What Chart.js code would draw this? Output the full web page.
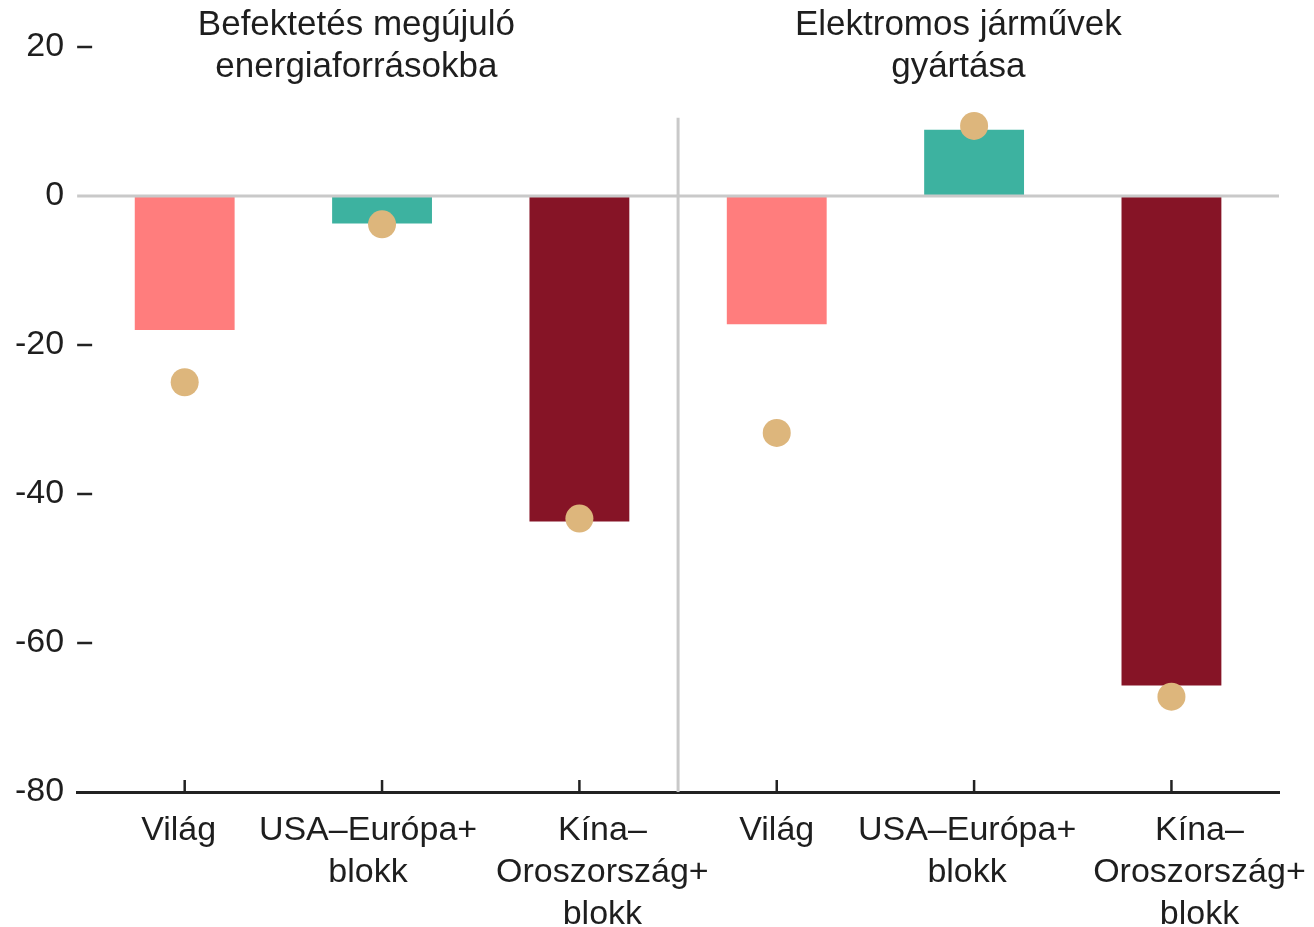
<!DOCTYPE html>
<html><head><meta charset="utf-8">
<script src="https://cdn.jsdelivr.net/npm/chart.js@4"></script>
<style>html,body{margin:0;padding:0;background:#fff}#wrap{width:1314px;height:927px;position:relative}</style>
</head><body><div id="wrap"><canvas id="c"></canvas></div>
<script>
const categories = [['Világ'], ['USA–Európa+', 'blokk'], ['Kína–', 'Oroszország+', 'blokk'], ['Világ'], ['USA–Európa+', 'blokk'], ['Kína–', 'Oroszország+', 'blokk']];
const barValues = [-18, -3.7, -43.7, -17.2, 8.9, -65.7];
const dotValues = [-25, -3.8, -43.3, -31.8, 9.4, -67.2];
const panelTitles = [['Befektetés megújuló', 'energiaforrásokba'], ['Elektromos járművek', 'gyártása']];
const yTicks = [20, 0, -20, -40, -60, -80];

const FONT = '"Liberation Sans", Arial, sans-serif';
const TEXT = '#1e1e1e';
const barColors = ['#FF7D7D', '#3DB2A0', '#861426', '#FF7D7D', '#3DB2A0', '#861426'];
const dotColor = '#DDB67C';
const labelNudge = [-6, -14, 23, 0, -7, 28];
const titleAt = [0.87, 3.92];

const overlay = {
  id: 'overlay',
  afterDatasetsDraw(chart) {
    const { ctx, chartArea: a, scales: { x, y } } = chart;
    ctx.save();
    ctx.strokeStyle = '#c9c9c9'; ctx.lineWidth = 3;
    const y0 = y.getPixelForValue(0);
    ctx.beginPath(); ctx.moveTo(a.left, y0); ctx.lineTo(a.right, y0); ctx.stroke();
    const dx = x.getPixelForValue(2.5);
    ctx.beginPath(); ctx.moveTo(dx, y.getPixelForValue(10.5)); ctx.lineTo(dx, a.bottom); ctx.stroke();
    ctx.strokeStyle = '#222'; ctx.lineWidth = 2.5;
    yTicks.forEach(v => {
      if (v === 0 || v === -80) return;
      const py = y.getPixelForValue(v);
      ctx.beginPath(); ctx.moveTo(a.left, py); ctx.lineTo(a.left + 15, py); ctx.stroke();
    });
    categories.forEach((c, i) => {
      const px = x.getPixelForValue(i);
      ctx.beginPath(); ctx.moveTo(px, a.bottom); ctx.lineTo(px, a.bottom - 12); ctx.stroke();
    });
    ctx.fillStyle = TEXT; ctx.textAlign = 'center'; ctx.textBaseline = 'alphabetic';
    ctx.font = '34px ' + FONT;
    categories.forEach((lines, i) => {
      const px = x.getPixelForValue(i) + labelNudge[i];
      lines.forEach((t, j) => ctx.fillText(t, px, a.bottom + 48 + 42 * j));
    });
    ctx.font = '35px ' + FONT;
    panelTitles.forEach((lines, k) => {
      const px = x.getPixelForValue(titleAt[k]);
      lines.forEach((t, j) => ctx.fillText(t, px, 35 + 42 * j));
    });
    ctx.restore();
  }
};

new Chart(document.getElementById('c'), {
  data: {
    datasets: [
      {
        type: 'scatter', order: 0,
        data: dotValues.map((v, i) => ({ x: i, y: v })),
        pointRadius: 14, pointHoverRadius: 14, backgroundColor: dotColor, borderWidth: 0
      },
      {
        type: 'bar', order: 1,
        data: barValues.map((v, i) => ({ x: i, y: v })),
        backgroundColor: barColors, borderWidth: 0,
        barPercentage: 1, categoryPercentage: 0.506
      }
    ]
  },
  options: {
    responsive: true, maintainAspectRatio: false, animation: false,
    layout: { padding: { left: 2, right: 35, top: 47, bottom: 135 } },
    plugins: { legend: { display: false }, tooltip: { enabled: false } },
    scales: {
      x: {
        type: 'linear', min: -0.545, max: 5.545, offset: false,
        afterBuildTicks: s => { s.ticks = categories.map((c, i) => ({ value: i })); },
        ticks: { display: false },
        grid: { display: false, drawTicks: false, offset: false },
        border: { display: true, color: '#222', width: 3 }
      },
      y: {
        min: -80, max: 20,
        afterBuildTicks: s => { s.ticks = yTicks.map(v => ({ value: v })); },
        ticks: { font: { family: FONT, size: 34 }, color: TEXT, padding: 13 },
        grid: { display: false, drawTicks: false },
        border: { display: false }
      }
    }
  },
  plugins: [overlay]
});
</script></body></html>
